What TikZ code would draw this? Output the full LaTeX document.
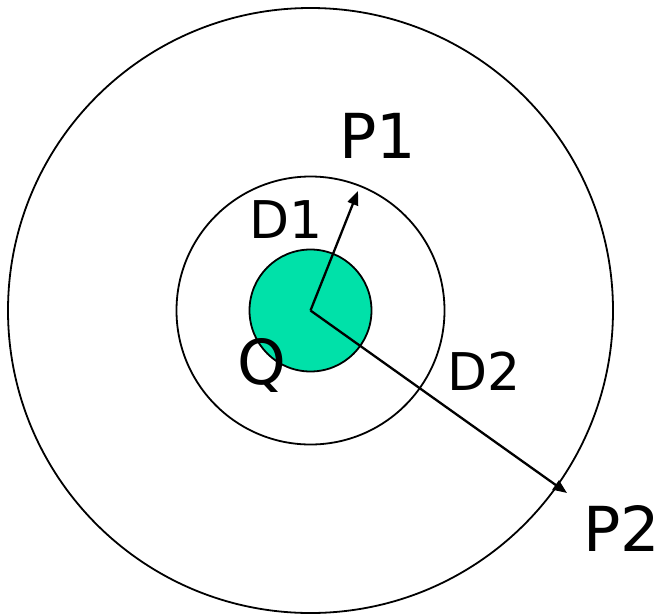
\documentclass[tikz,border=0pt]{standalone}
\usepackage{fontspec}
\setmainfont{DejaVu Sans}
\usetikzlibrary{arrows.meta}
\definecolor{charge}{HTML}{00E1A9}
\begin{document}
\begin{tikzpicture}[x=1pt,y=-1pt,
  ring/.style={draw=black,line width=1.8pt},
  vec/.style={line width=2.3pt,-{Triangle[length=14pt,width=11pt]}},
  big/.style={inner sep=0pt,anchor=base,font=\fontsize{62}{62}\selectfont},
  mid/.style={inner sep=0pt,anchor=base,font=\fontsize{52}{52}\selectfont}]
\useasboundingbox (0,0) rectangle (659,614);
\fill[white] (0,0) rectangle (659,614);
\coordinate (O) at (310.5,310.5);
\draw[ring] (O) circle[radius=302.5];
\draw[ring] (O) circle[radius=134];
\draw[ring,fill=charge] (O) circle[radius=61];
\coordinate (T1) at (358,191);
\coordinate (T2) at (567,493);
\draw[vec] (O) -- (T1);
\draw[vec] (O) -- (T2);
\node[big] (p1) at (378,158) {P1};
\node[mid] (d1) at (286,238) {D1};
\node[big] (q) at (262,384) {Q};
\node[mid] (d2) at (484,390) {D2};
\node[big] (p2) at (622,551) {P2};
\end{tikzpicture}
\end{document}
